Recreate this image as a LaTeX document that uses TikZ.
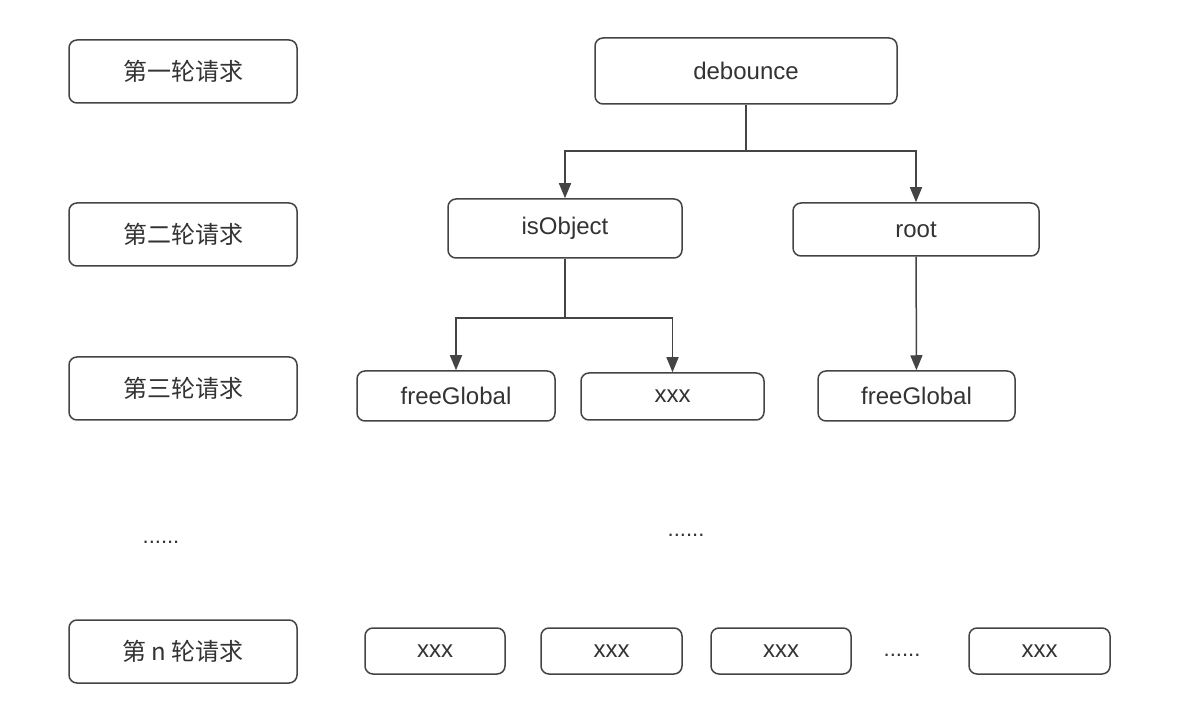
\documentclass[tikz,border=0pt]{standalone}
\usepackage{fontspec}
\setmainfont{Liberation Sans}
\newfontfamily\cjk{Noto Sans CJK SC}
\usepackage{xcolor}
\definecolor{boxline}{RGB}{68,68,68}
\definecolor{boxtext}{RGB}{51,51,51}
\usepackage{tikz}
\usetikzlibrary{arrows.meta,positioning}
\tikzset{
  rd_round/.style={rectangle,rounded corners=4pt,
    draw=boxline,line width=0.75pt,fill=white,
    text=boxtext,font=\cjk\fontsize{12}{14}\selectfont,
    minimum width=114pt,minimum height=31.5pt,inner sep=0pt},
  rd_func/.style={rectangle,rounded corners=4pt,
    draw=boxline,line width=0.75pt,fill=white,
    text=boxtext,font=\fontsize{12}{14}\selectfont,
    inner sep=0pt},
  rd_dots/.style={text=boxtext,font=\fontsize{11}{13}\selectfont,inner sep=0pt},
  arr/.style={-{Triangle[length=7.5pt,width=6pt]},line width=0.75pt,draw=boxline},
  lnk/.style={line width=0.75pt,draw=boxline},
}

\begin{document}
\begin{tikzpicture}[x=0.5pt,y=-0.5pt]
  \useasboundingbox (0,0) rectangle (1182,710);
  % rounds of requests
  \node (r1) [rd_round] at (183,71.5)  {第一轮请求};
  \node (r2) [rd_round] at (183,234.5) {第二轮请求};
  \node (r3) [rd_round] at (183,388.5) {第三轮请求};
  \node (rd) [rd_dots]  at (161,542)   {......};
  \node (rn) [rd_round] at (183,651.5) {第 n 轮请求};
  % dependency tree
  \node (deb) [rd_func,minimum width=151pt,minimum height=33pt] at (746,71)
    {debounce};
  \node (iso) [rd_func,minimum width=117pt,minimum height=29.5pt] at (565,228.5)
    {isObject};
  \node (root) [rd_func,minimum width=123pt,minimum height=26.5pt] at (916,229.5)
    {root};
  \node (fg1) [rd_func,minimum width=99pt,minimum height=25pt] at (456,396)
    {freeGlobal};
  \node (x1) [rd_func,minimum width=91.5pt,minimum height=23.5pt] at (672.5,396.5)
    {xxx};
  \node (fg2) [rd_func,minimum width=98.5pt,minimum height=25pt] at (916.5,396)
    {freeGlobal};
  \node (td) [rd_dots] at (686,535) {......};
  % last round
  \node (n1) [rd_func,minimum width=70pt,minimum height=23pt] at (435,651) {xxx};
  \node (n2) [rd_func,minimum width=70.5pt,minimum height=23pt] at (611.5,651) {xxx};
  \node (n3) [rd_func,minimum width=70pt,minimum height=23pt] at (781,651) {xxx};
  \node (nd) [rd_dots] at (902,655) {......};
  \node (n4) [rd_func,minimum width=70.5pt,minimum height=23pt] at (1039.5,651) {xxx};

  \coordinate (s1) at (746,151);
  \coordinate (s2) at (565,318);
  \draw[lnk] (deb) -- (s1);
  \draw[arr] (s1) -| (iso);
  \draw[arr] (s1) -| (root);
  \draw[lnk] (iso) -- (s2);
  \draw[arr] (s2) -| (fg1);
  \draw[arr] (s2) -| (x1);
  \draw[arr] (root) -- (fg2);
\end{tikzpicture}
\end{document}
